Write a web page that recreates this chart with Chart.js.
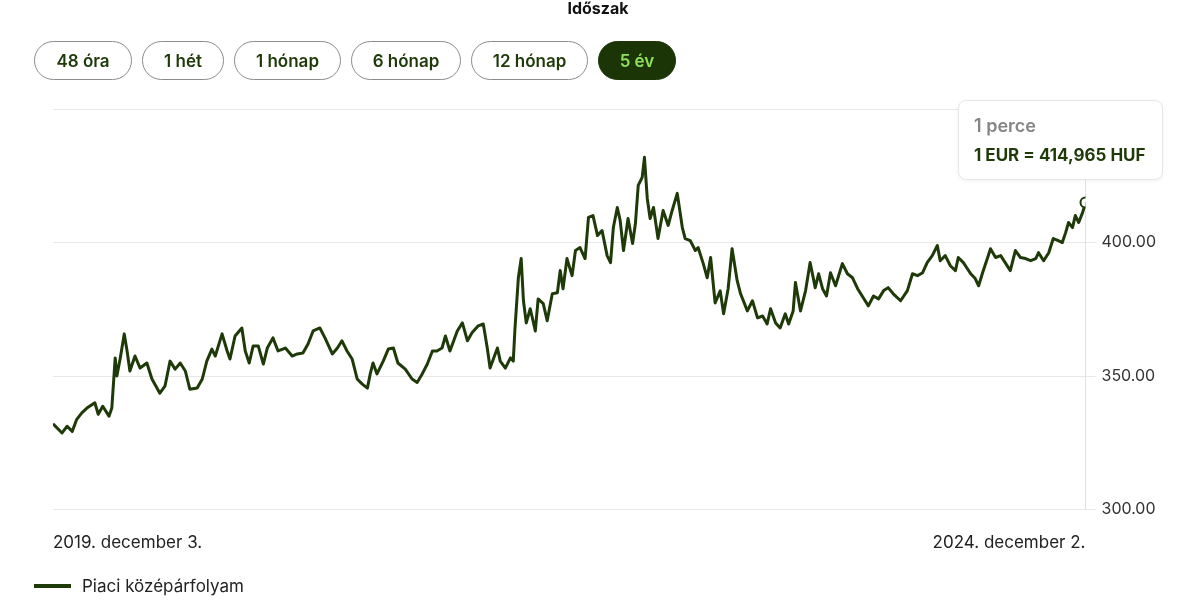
<!DOCTYPE html>
<html lang="hu">
<head>
<meta charset="utf-8">
<title>EUR/HUF</title>
<script src="https://cdn.jsdelivr.net/npm/chart.js@4.4.1/dist/chart.umd.min.js"></script>
<style>
  body { margin: 0; width: 1185px; height: 603px; position: relative; overflow: hidden; background: #fff; font-family: Inter, 'Noto Sans', sans-serif; }
  #chart { position: absolute; left: 0; top: 0; }
  .title { position: absolute; left: 548px; width: 100px; top: -2px; text-align: center; font-size: 16px; font-weight: 700; color: #111; }
  .periods { position: absolute; left: 34px; top: 41px; display: flex; gap: 10px; }
  .periods span { box-sizing: border-box; height: 39px; border: 1px solid #8c8c8c; border-radius: 20px; display: flex; align-items: center; justify-content: center; font-size: 17px; font-weight: 600; color: #1d3a08; }
  .periods span.on { background: #1b3506; border-color: #1b3506; color: #8fe05c; }
  .tip { position: absolute; left: 958px; top: 100px; width: 205px; height: 80px; box-sizing: border-box; background: #fff; border: 1px solid #e6e6e6; border-radius: 8px; box-shadow: 0 1px 4px rgba(0,0,0,0.05); padding: 13px 0 0 15px; }
  .tip .when { font-size: 18px; font-weight: 600; color: #858585; line-height: 24px; }
  .tip .val { font-size: 17px; font-weight: 700; color: #1d3a08; line-height: 24px; margin-top: 5px; }
  .legend { position: absolute; left: 34px; top: 576px; display: flex; align-items: center; font-size: 17px; color: #222; }
  .legend i { display: inline-block; width: 37px; height: 4px; background: #1d3a08; margin-right: 11px; }
</style>
</head>
<body>
<canvas id="chart" width="1185" height="603"></canvas>
<div class="title">Időszak</div>
<div class="periods">
  <span style="width:98px">48 óra</span>
  <span style="width:82px">1 hét</span>
  <span style="width:107px">1 hónap</span>
  <span style="width:110px">6 hónap</span>
  <span style="width:117px">12 hónap</span>
  <span class="on" style="width:78px">5 év</span>
</div>
<div class="tip">
  <div class="when">1 perce</div>
  <div class="val">1 EUR = 414,965 HUF</div>
</div>
<div class="legend"><i></i>Piaci középárfolyam</div>
<script>
// days since 2019-12-03
const days = [
  0, 16, 25, 34, 42, 51, 60, 74, 80, 88,
  99, 104, 110, 113, 119, 126, 131, 136, 145, 154,
  166, 175, 189, 198, 207, 216, 225, 234, 242, 255,
  264, 272, 281, 287, 299, 308, 313, 322, 334, 340,
  347, 354, 363, 372, 379, 389, 398, 411, 423, 432,
  442, 451, 460, 472, 481, 494, 503, 511, 520, 529,
  538, 547, 556, 561, 566, 573, 584, 593, 602, 610,
  623, 635, 644, 653, 662, 671, 679, 688, 694, 702,
  715, 724, 733, 741, 752, 761, 768, 773, 786, 791,
  800, 809, 814, 817, 823, 828, 832, 837, 844, 849,
  853, 858, 867, 874, 883, 892, 897, 902, 909, 918,
  924, 932, 941, 947, 955, 963, 971, 980, 986, 991,
  998, 1003, 1009, 1017, 1025, 1030, 1035, 1042, 1046, 1051,
  1056, 1062, 1070, 1079, 1088, 1095, 1104, 1113, 1118, 1127,
  1136, 1141, 1150, 1157, 1163, 1171, 1180, 1186, 1194, 1201,
  1210, 1216, 1228, 1237, 1246, 1255, 1263, 1269, 1278, 1286,
  1295, 1301, 1309, 1313, 1322, 1331, 1339, 1348, 1354, 1361,
  1368, 1375, 1384, 1396, 1405, 1414, 1423, 1433, 1442, 1451,
  1460, 1469, 1477, 1486, 1499, 1511, 1520, 1529, 1538, 1546,
  1555, 1564, 1569, 1578, 1587, 1596, 1601, 1610, 1623, 1631,
  1637, 1644, 1653, 1658, 1667, 1676, 1684, 1693, 1702, 1711,
  1720, 1729, 1738, 1743, 1752, 1761, 1769, 1778, 1785, 1791,
  1796, 1803, 1808, 1814, 1821, 1826
]

// EUR/HUF mid rate
const rates = [
  332.1, 328.7, 331.2, 329.3, 333.8, 336.2, 338.0, 340.0, 335.7, 338.7,
  335.0, 338.0, 356.8, 350.0, 356.8, 365.8, 359.4, 351.9, 357.5, 353.0,
  354.9, 348.9, 343.6, 346.2, 355.6, 352.6, 354.9, 351.9, 345.1, 345.5,
  348.9, 355.6, 360.1, 357.5, 365.8, 359.4, 356.4, 365.0, 368.0, 359.4,
  354.9, 361.3, 361.3, 354.5, 360.5, 364.3, 359.4, 360.5, 357.5, 358.3,
  358.6, 362.0, 366.9, 368.0, 364.3, 358.3, 360.5, 363.2, 359.4, 356.4,
  348.9, 347.0, 345.5, 350.8, 354.9, 350.8, 355.6, 360.1, 360.5, 354.9,
  352.6, 348.9, 347.6, 350.8, 354.5, 359.4, 359.4, 360.5, 365.0, 359.4,
  366.9, 369.9, 363.2, 366.2, 368.8, 369.5, 360.5, 353.0, 360.5, 355.6,
  353.0, 356.8, 355.6, 367.7, 386.8, 394.0, 378.2, 369.9, 375.2, 370.7,
  366.9, 378.9, 377.1, 370.7, 380.8, 381.2, 389.5, 382.7, 394.0, 387.6,
  397.0, 398.1, 394.0, 409.4, 410.1, 402.6, 404.5, 395.1, 392.5, 405.6,
  413.1, 408.3, 397.0, 409.0, 399.6, 407.1, 421.4, 424.4, 431.9, 416.5,
  409.0, 413.1, 401.5, 412.0, 406.4, 412.0, 418.4, 405.6, 401.5, 400.7,
  397.0, 398.1, 392.1, 386.8, 394.4, 377.4, 381.9, 373.3, 382.7, 397.7,
  385.7, 380.8, 374.4, 378.2, 371.8, 372.5, 369.5, 375.2, 369.9, 368.0,
  373.3, 369.5, 374.4, 385.0, 374.4, 382.0, 392.5, 383.1, 388.3, 382.7,
  380.0, 388.7, 383.8, 392.1, 388.3, 386.8, 382.7, 379.3, 376.3, 380.0,
  378.9, 382.0, 383.1, 380.8, 378.2, 382.0, 388.3, 387.6, 388.7, 392.5,
  395.1, 398.9, 393.2, 395.1, 391.3, 389.5, 394.4, 392.5, 388.3, 386.5,
  383.8, 388.7, 394.4, 397.7, 394.4, 395.1, 392.5, 389.5, 397.0, 394.4,
  394.0, 393.2, 394.0, 396.2, 393.2, 396.2, 401.5, 400.7, 400.0, 403.8,
  407.5, 405.6, 410.1, 407.5, 411.3, 414.965
]

const xTickLabels = ['2019. december 3.', '2024. december 2.']
const yTicks = [300, 350, 400, 450]

const green = '#1d3a08'
const last = rates.length - 1

new Chart(document.getElementById('chart'), {
  type: 'line',
  data: {
    datasets: [
      {
        label: 'Piaci középárfolyam',
        data: days.map((d, i) => ({ x: d, y: rates[i] })),
        borderColor: green,
        backgroundColor: '#fff',
        borderWidth: 3,
        borderJoinStyle: 'round',
        tension: 0,
        fill: false,
        pointRadius: ctx => (ctx.dataIndex === last ? 5 : 0),
        pointBorderWidth: 2,
        pointBorderColor: green,
        pointBackgroundColor: '#fff',
      },
    ],
  },
  options: {
    responsive: false,
    animation: false,
    devicePixelRatio: 1,
    layout: { padding: { top: 109, right: 23, bottom: 35, left: 53 } },
    plugins: { legend: { display: false }, tooltip: { enabled: false } },
    scales: {
      x: {
        type: 'linear',
        min: days[0],
        max: days[last],
        grid: { display: false },
        border: { display: false },
        afterBuildTicks: scale => {
          scale.ticks = [{ value: days[0] }, { value: days[last] }]
        },
        ticks: {
          autoSkip: false,
          maxRotation: 0,
          align: 'inner',
          padding: 15,
          color: '#222',
          font: { family: 'Inter', size: 17 },
          callback: (v, i) => xTickLabels[i],
        },
      },
      y: {
        position: 'right',
        min: yTicks[0],
        max: yTicks[yTicks.length - 1],
        afterBuildTicks: scale => {
          scale.ticks = yTicks.map(v => ({ value: v }))
        },
        grid: { color: '#e8e8e8', tickLength: 10 },
        border: { display: true, color: '#e2e2e2' },
        ticks: {
          padding: 6,
          color: '#333',
          font: { family: 'Inter', size: 16 },
          callback: v => v.toFixed(2),
        },
      },
    },
  },
})
</script>
</body>
</html>
